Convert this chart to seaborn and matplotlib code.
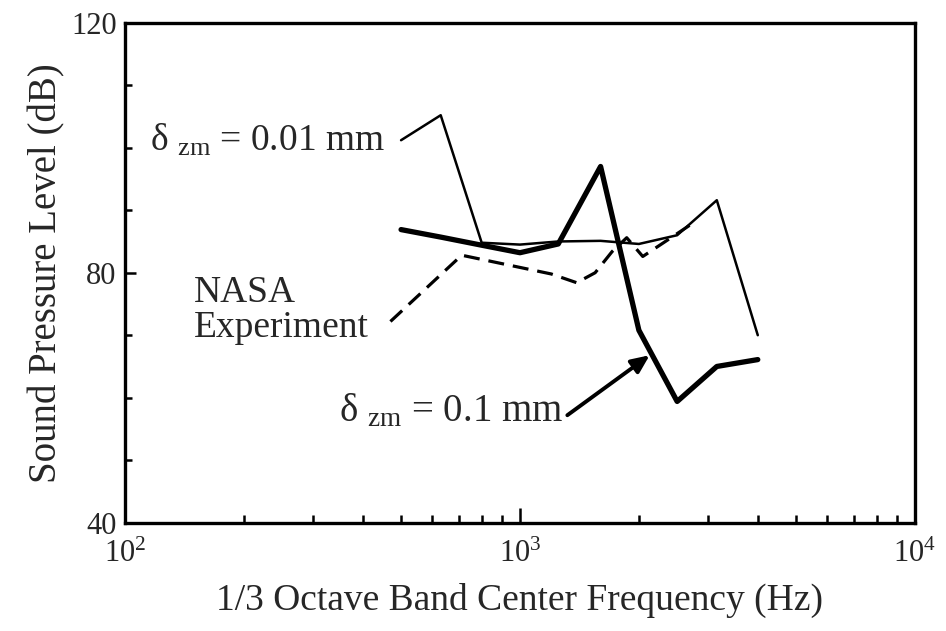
import numpy as np
import pandas as pd
import matplotlib
matplotlib.use("Agg")
import matplotlib.pyplot as plt
import seaborn as sns

# 1/3 octave band centre frequencies used by the two predictions
freq = [500, 630, 800, 1000, 1250, 1600, 2000, 2500, 3150, 4000]
spl_001 = [101.2, 105.2, 84.8, 84.5, 85.0, 85.1, 84.6, 86.0, 91.6, 70.0]   # delta_zm = 0.01 mm
spl_01 = [86.9, 85.7, 84.4, 83.2, 84.6, 97.0, 70.8, 59.4, 65.0, 66.1]      # delta_zm = 0.1 mm

nasa_freq = [470, 712, 1200, 1392, 1550, 1712, 1863, 2046, 2439, 2750]
nasa_spl = [72.2, 82.8, 79.8, 78.4, 80.0, 83.4, 85.6, 82.6, 85.8, 88.0]

sns.set_theme(style="ticks")
plt.rcParams["font.family"] = ["Liberation Serif", "DejaVu Serif"]
plt.rcParams["mathtext.fontset"] = "custom"
plt.rcParams["mathtext.rm"] = "Liberation Serif"
plt.rcParams["mathtext.it"] = "Liberation Serif:italic"

df1 = pd.DataFrame({"f": freq, "spl": spl_001})
df2 = pd.DataFrame({"f": freq, "spl": spl_01})
df3 = pd.DataFrame({"f": nasa_freq, "spl": nasa_spl})

fig = plt.figure(figsize=(9.46, 6.31), dpi=100)
ax = fig.add_axes([0.1321, 0.1716, 0.8351, 0.7924])

sns.lineplot(data=df1, x="f", y="spl", ax=ax, color="black", lw=1.8)
sns.lineplot(data=df2, x="f", y="spl", ax=ax, color="black", lw=3.8)
sns.lineplot(data=df3, x="f", y="spl", ax=ax, color="black", lw=2.3,
             dashes=False, linestyle=(0, (5, 2.8)))

ax.set_xscale("log")
ax.set_xlim(100, 10000)
ax.set_ylim(40, 120)
ax.set_yticks([40, 80, 120])
ax.set_yticks([50, 60, 70, 90, 100, 110], minor=True)

for s in ax.spines.values():
    s.set_linewidth(2.4)
    s.set_color("black")

ax.tick_params(axis="both", which="both", direction="in", color="black",
               top=False, right=False, labelsize=22, width=1.8)
ax.tick_params(axis="x", which="major", length=11, pad=12)
ax.tick_params(axis="x", which="minor", length=6)
ax.tick_params(axis="y", which="major", length=8, pad=6)
ax.tick_params(axis="y", which="minor", length=5)

ax.set_xlabel("1/3 Octave Band Center Frequency (Hz)", fontsize=27, labelpad=10)
ax.set_ylabel("Sound Pressure Level (dB)", fontsize=28, labelpad=4)

ax.text(455, 101.2, r"δ $_{\mathrm{zm}}$ = 0.01 mm", fontsize=27, ha="right", va="center")
ax.text(149, 74.0, "NASA\nExperiment", fontsize=27, ha="left", va="center", linespacing=1.0)
ax.text(1290, 57.8, r"δ $_{\mathrm{zm}}$ = 0.1 mm", fontsize=28, ha="right", va="center")
ax.annotate("", xy=(2130, 66.8), xytext=(1318, 57.2),
            arrowprops=dict(arrowstyle="-|>,head_length=0.9,head_width=0.4",
                            color="black", lw=2.8, shrinkA=0, shrinkB=0))

fig.savefig("out.png", dpi=100)
